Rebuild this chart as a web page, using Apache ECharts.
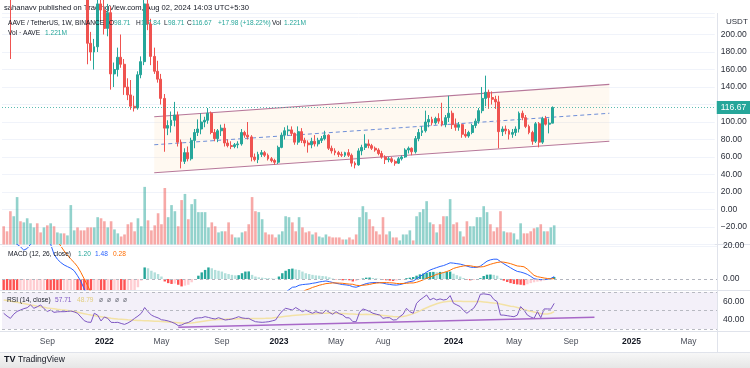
<!DOCTYPE html>
<html><head><meta charset="utf-8">
<script src="https://cdn.jsdelivr.net/npm/echarts@6/dist/echarts.min.js"></script>
<style>html,body{margin:0;padding:0;background:#fff}#c{width:750px;height:368px}</style>
</head><body><div id="c"></div>
<script>
// ---------- data ----------
const startDateUTC = [2021, 5, 7];   // first weekly bar: 2021-06-07
const weekCount = 213;                // weekly slots on the time axis (through mid 2025)
const tickLabels = [
  ['2021-09-06','Sep'],['2022-01-03','2022'],['2022-05-02','May'],['2022-09-05','Sep'],
  ['2023-01-02','2023'],['2023-05-01','May'],['2023-08-07','Aug'],['2024-01-01','2024'],
  ['2024-05-06','May'],['2024-09-02','Sep'],['2025-01-06','2025'],['2025-05-05','May']
];
const opens = [
345,300,275,240,300,320,262,290,340,380,
420,395,380,430,340,350,280,300,320,305,
330,345,350,300,250,240,190,180,186,235,
228,207,225,155,160,174,166,140,131,118,
116,154,169,235,212,175,158,149,127,93,
96,102,108,77,55,65,58,79,88,92,
100,102,110,88,81,90,93,76,73,72,
74,75,88,85,83,60,57,63,65,62,
58,56,54,71,85,90,91,87,77,89,
79,76,74,78,75,79,81,85,70,67,
65,63,62,65,62,53,51,67,71,75,
73,70,68,64,60,57,58,55,53,58,
60,68,70,66,81,88,90,100,103,99,
104,101,97,105,110,97,94,97,86,84,
88,96,101,113,127,134,128,126,123,89,
92,90,86,88,92,110,105,95,88,78,
98,77,104,97.5,98.71];
const highs = [
360,320,290,320,330,330,300,350,400,440,
450,420,450,470,370,360,310,330,340,335,
370,360,355,305,260,258,203,195,245,260,
240,235,232,168,185,200,172,150,148,130,
158,175,260,248,218,185,170,155,132,102,
112,123,112,80,70,72,82,92,103,110,
106,116,112,92,92,97,98,80,78,76,
78,92,90,100,85,64,66,68,67,64,
60,58,73,88,94,96,95,88,95,93,
82,79,82,85,82,84,90,86,73,70,
67,66,66,69,64,55,70,74,86,80,
75,72,70,67,62,60,60,57,60,62,
70,72,71,84,92,95,113,108,106,106,
110,122,108,130,113,104,100,98,92,90,
98,104,116,140,153,137,135,130,130,95,
96,92,92,95,112,113,108,97,90,100,
100,106,107,104,117.84];
const lows = [
290,255,172,232,270,240,250,280,320,360,
370,360,370,290,310,250,265,290,290,295,
300,310,290,240,230,166,170,160,180,215,
200,198,137,140,152,162,131,125,114,112,
114,150,165,205,165,155,145,120,66,85,
88,95,72,47,52,55,56,70,84,86,
94,98,86,78,77,84,72,71,69,70,
70,73,82,80,55,55,53,60,60,56,
54,51,52,70,80,85,84,74,74,76,
72,65,70,72,72,76,79,68,64,62,
60,60,60,60,49,47,50,62,68,70,
68,66,62,58,52,54,53,50,52,56,
59,64,62,64,78,84,88,94,96,97,
98,95,94,100,92,90,90,82,82,82,
86,93,98,110,118,115,120,115,70,84,
86,80,82,84,88,102,93,86,74,76,
71,75,96,87,98.71];
const closes = [
300,275,240,300,320,262,290,340,380,420,
395,380,430,340,350,280,300,320,305,330,
345,350,300,250,240,190,180,186,235,228,
207,225,155,160,174,166,140,131,118,116,
154,169,235,212,175,158,149,127,93,96,
102,108,77,55,65,58,79,88,92,100,
102,110,88,81,90,93,76,73,72,74,
75,88,85,83,60,57,63,65,62,58,
56,54,71,85,90,91,87,77,89,79,
76,74,78,75,79,81,85,70,67,65,
63,62,65,62,53,51,67,71,75,73,
70,68,64,60,57,58,55,53,58,60,
68,70,66,81,88,90,100,103,99,104,
101,97,105,110,97,94,97,86,84,88,
96,101,113,127,134,128,126,123,89,92,
90,86,88,92,110,105,95,88,78,98,
77,104,97.5,98.71,116.67];
const volumesM = [
1.16,0.84,2.12,1.80,3.02,1.48,1.41,1.67,1.35,1.09,
1.35,0.77,1.09,1.22,1.35,1.16,0.77,0.71,0.71,0.58,
2.51,0.90,1.09,0.90,0.90,1.09,1.09,1.09,1.74,1.67,
1.48,1.09,1.48,0.96,0.71,0.51,0.64,1.29,1.41,0.84,
1.67,1.16,3.67,1.54,0.90,1.22,1.99,1.29,3.60,1.74,
2.51,2.12,1.16,2.83,3.22,1.61,2.57,2.89,2.06,2.06,
2.06,1.09,1.41,1.16,0.77,0.84,0.84,1.41,0.64,0.45,
0.45,0.77,0.84,1.29,3.02,2.12,2.06,1.61,0.77,0.64,
0.64,0.45,0.64,0.84,1.80,1.74,1.41,0.84,1.74,1.09,
0.77,0.84,0.64,0.77,0.51,0.45,0.64,0.51,0.45,0.45,
0.45,0.32,0.32,0.45,0.32,0.64,1.74,2.44,2.06,1.61,
1.16,0.84,0.64,1.74,0.64,0.84,0.45,0.45,0.26,0.64,
0.64,0.90,0.26,1.80,2.06,2.25,2.76,1.41,1.29,0.77,
1.29,1.80,1.80,2.89,1.29,1.41,0.84,0.51,1.48,1.16,
1.16,1.74,1.74,2.44,2.06,1.29,0.84,1.09,2.12,0.84,
0.77,0.77,0.71,0.32,1.35,0.71,0.71,0.84,1.03,1.09,
1.29,0.84,0.84,1.09,1.221];
const macdLine = [
38,32,26,22.5,21,19.5,17.5,18.5,21,25,
28,29,30,30,21,15,12,10,8.5,7.5,
6.5,5,2,-1.5,-6,-11,-16,-19,-19,-19,
-21,-22,-27,-30,-31,-32,-34,-36,-38,-38,
-35,-30,-22,-19,-19,-20,-21,-23,-27,-30,
-31,-31,-33,-37,-38,-38,-36,-33,-30,-26,
-23,-20,-19,-19,-18,-17,-17,-17,-16.5,-16,
-15.5,-14,-13,-12,-13,-14,-14,-14,-14,-14,
-14,-14,-12.5,-10,-8,-6.5,-5.0,-4.8,-3.8,-3.4,
-3.2,-3.0,-2.6,-2.3,-1.8,-1.5,-1.2,-1.6,-2.1,-2.6,
-3.0,-3.4,-3.6,-3.9,-4.7,-5.0,-4.3,-3.5,-2.8,-2.4,
-2.2,-2.1,-2.2,-2.5,-3.0,-3.3,-3.6,-3.7,-3.4,-2.9,
-2.1,-1.6,-1.2,0,1.5,2.8,4.2,5.4,6.2,6.9,
7.6,8.1,8.9,9.8,9.6,9.3,9.0,8.5,7.8,7.2,
7.0,7.1,7.8,9.3,10.8,11.6,12.0,12.0,10.6,9.2,
8.0,6.8,5.6,4.6,4.2,3.6,2.8,1.6,0.2,-0.2,
-0.4,-0.3,-0.2,0.3,1.48];
const signalLine = [
45,43,40,37,34,32,30,28.5,27.5,27,
27.5,28,28,28.5,28,26,23,20,17,14.5,
12,10,7.5,4,0,-4,-8,-11,-13,-14.5,
-16,-17.5,-19.5,-21.5,-23.5,-25,-27,-29,-31,-32,
-32.5,-32,-29,-26,-24,-23,-22.5,-22.5,-23.5,-25,
-26.5,-28,-29.5,-31.5,-33.5,-34.5,-35,-34.5,-33,-31,
-29,-27,-25.5,-24.5,-23.5,-22.5,-21.5,-20.5,-19.5,-18.5,
-18,-17.5,-17,-16.5,-15.5,-15.5,-15,-14.8,-14.6,-14.5,
-14.3,-14.2,-14,-13.5,-13,-12.5,-11.3,-10.6,-9.3,-7.9,
-6.7,-6,-5.1,-4.5,-3.8,-3.3,-2.8,-2.6,-2.4,-2.4,
-2.5,-2.6,-2.9,-3.1,-3.2,-3.8,-4,-3.8,-3.6,-3.3,
-2.8,-2.5,-2.3,-2.2,-2.2,-2.3,-2.4,-2.7,-2.8,-2.7,
-2.6,-2.4,-2.4,-2,-1.3,-0.5,0.4,1.2,1.9,2.8,
3.3,3.9,4.5,5.3,6.4,7,7.5,7.9,8.1,8,
7.6,7.3,7.3,7.5,8.2,8.9,9.5,10,10.3,10.2,
9.8,9.3,8.6,7.9,7.7,7.4,6,4.1,2.2,1.4,
1.0,0.6,0.3,0.0,0.28];
const macdHist = [
-9,-11,-13,-14,-15,-14,-13,-12,-11,-10,
-9,-8,-7.5,-8,-9,-10,-11,-11.5,-11,-10,
-8,-7.5,-8,-9,-10,-12,-13,-12,-11,-11.5,
-12,-11.5,-13,-12,-11,-11.5,-12,-11,-10,-8,
-5,-1,7,6.5,5,4,3,1.5,-1.5,-2.5,
-3,-2.8,-3.5,-4.5,-4,-3.5,-2,-0.5,2,4,
5.5,7,6.5,5.5,5,4.5,3.5,3,2.5,2.2,
2.3,3.5,4.5,4.6,2.5,1.5,1,0.8,0.6,0.5,
0.3,0.2,1.5,3.5,5,6,6.3,5.8,5.5,4.5,
3.5,3,2.5,2.2,2,1.8,1.6,1,0.3,-0.2,
-0.5,-0.8,-0.7,-0.8,-1.5,-1.2,-0.3,0.3,0.8,0.9,
0.6,0.4,0.1,-0.3,-0.8,-1,-1.2,-1,-0.6,-0.2,
0.5,0.8,1.2,2,2.8,3.3,3.8,4.2,4.3,4.1,
4.3,4.2,4.4,4.5,3.2,2.3,1.5,0.6,-0.3,-0.8,
-0.6,-0.2,0.5,1.8,2.6,2.7,2.5,2,0.3,-1,
-1.8,-2.5,-3,-3.3,-3.5,-3.8,-3.2,-2.5,-2,-1.6,
-1.4,-0.9,-0.5,0.3,1.2];
const rsiLine = [
47,44,41.5,46,49,50.5,52,53,56,52.4,
54,56,52,49,50.5,48,48.5,48.7,48.7,49,
49.5,48.5,47,43,39,37.5,37.2,47,45,38.7,
43,41.5,37.2,37,37.2,36,35,36.5,38.7,41.5,
44,47,53.2,48.7,45,43.3,42,40,39.5,38.7,
37.5,36,33.6,34.3,36.1,37,39,41.5,42,42.2,
43.3,42.5,41.5,40.8,42.2,41,39.7,40.2,40.8,42,
43.3,42,41.5,41.5,39.5,37.9,37.5,37.2,37.5,37.9,
38.8,39.7,45,49.5,52.4,51.5,50.5,53.2,51,48.7,
50.5,48.5,47,48.7,47.5,47,50.5,48,45.9,48.7,
46.5,45.2,42.2,42,38,37.9,48,51.7,50.5,49,
47,46,45.1,41.5,42.2,42.2,39.7,40,43.3,46,
52.4,48.7,47,57.8,61.4,64,66.8,61.4,63.2,61.4,
62.5,61.4,62,66.1,57.8,56,54.2,50,47,50,
52.4,58,67.5,68,67.5,66.8,62,59.6,45.1,45,
44.4,43.8,43.3,45,54.2,50.5,45.1,43,41.5,48.7,
42.2,51.7,51.7,51.5,57.71];
const rsiMA = [
61.4,60.8,60.2,59.5,58.9,58.2,57.5,56.8,56,55.3,
54.6,54,53.4,52.8,52.3,51.8,51.3,50.9,50.6,50.1,
49.5,48.9,48.2,47.4,46.6,45.8,45.1,44.5,43.8,43.2,
42.6,42.1,41.6,41.2,40.8,40.5,40.2,39.9,39.7,39.5,
39.3,39.1,39,38.8,38.6,38.4,38.3,38.1,37.9,37.7,
37.4,37.1,36.8,36.5,36.2,36.3,36.6,37,37.6,38.2,
38.7,39.2,39.6,39.9,40.2,40.4,40.6,40.7,40.8,40.9,
41,41.1,41.2,41.2,41.3,41.3,41.3,41.4,41.5,41.7,
42,42.4,42.8,43.3,43.7,44.1,44.5,44.8,45.1,45.4,
45.7,46,46.3,46.6,46.8,47,47.1,47.2,47,46.9,
46.8,46.7,46.5,46.3,46.1,45.9,45.8,45.8,45.9,45.8,
45.6,45.4,45.1,44.7,44.3,43.9,43.5,43.3,43.3,43.6,
44.3,45.3,46.6,48,49.6,51.3,53,54.6,56,57.3,
58.4,59.1,59.6,60,60.1,60.1,60,59.8,59.7,59.6,
59.6,59.6,59.6,59.3,58.9,58.5,58.1,57.8,57,56.3,
55.5,54.7,54.2,53.2,52.1,51.1,50.1,49.2,48.4,47.6,
46.8,46.3,46.2,47,48.79];
// drawn channel (bar index, price)
const channelX = [45, 181];
const channelUpper = [106, 143];
const channelMiddle = [74, 110];
const channelLower = [42, 78];
// RSI support line (bar index, RSI)
const rsiTrendX = [52, 176];
const rsiTrendY = [31.8, 42.65];
const lastPrice = 116.67;

// ---------- build ----------
const categories = [];
const t0 = Date.UTC(startDateUTC[0], startDateUTC[1], startDateUTC[2]);
for (let i = 0; i < weekCount; i++) categories.push(new Date(t0 + i * 7 * 86400000).toISOString().slice(0, 10));
const tickMap = new Map(tickLabels);

const UP = '#26a69a', DOWN = '#ef5350';
const FONT = 'Liberation Sans, Arial, sans-serif';
const fmt = v => (v < 0 ? '\u2212' : '') + Math.abs(v).toFixed(2);

const candleData = opens.map((o, i) => [o, closes[i], lows[i], highs[i]]);
const volData = volumesM.map((v, i) => ({ value: v, itemStyle: { color: closes[i] >= opens[i] ? 'rgba(38,166,154,0.5)' : 'rgba(239,83,80,0.5)' } }));
const histData = macdHist.map((h, i) => {
  const p = i > 0 ? macdHist[i - 1] : h;
  let c;
  if (h >= 0) c = h >= p ? '#26a69a' : '#b2dfdb';
  else c = h <= p ? '#ff5252' : '#ffcdd2';
  return { value: h, itemStyle: { color: c } };
});

const L = 2, R = 33;
const grids = [
  { left: L, right: R, top: 13, height: 231.5 },
  { left: L, right: R, top: 166, height: 78.5 },
  { left: L, right: R, top: 244.5, height: 45.5 },
  { left: L, right: R, top: 290, height: 41 }
];
const xAxes = grids.map((g, k) => ({
  type: 'category', gridIndex: k, data: categories, boundaryGap: true,
  axisLine: { show: false }, axisTick: { show: false }, splitLine: { show: false },
  axisLabel: k === 3 ? {
    show: true, margin: 6, fontFamily: FONT,
    interval: (idx, val) => tickMap.has(val),
    formatter: val => { const t = tickMap.get(val) || ''; return /^\d{4}$/.test(t) ? '{y|' + t + '}' : '{m|' + t + '}'; },
    rich: { y: { fontWeight: 'bold', color: '#131722', fontSize: 8.5, fontFamily: FONT }, m: { color: '#4a4e59', fontSize: 8.5, fontFamily: FONT } }
  } : { show: false }
}));
const ylab = { color: '#2a2e39', fontSize: 8.5, margin: 6, fontFamily: FONT };
const yAxes = [
  { type: 'value', gridIndex: 0, position: 'right', min: -40, max: 224.6, interval: 20,
    axisLine: { show: false }, axisTick: { show: false },
    axisLabel: Object.assign({}, ylab, { formatter: v => (v <= -40 || v >= 220) ? '' : fmt(v) }),
    splitLine: { show: true, lineStyle: { color: '#f0f3fa', width: 1 } } },
  { type: 'value', gridIndex: 1, position: 'right', min: 0, max: 5, show: false, splitLine: { show: false } },
  { type: 'value', gridIndex: 2, position: 'right', min: -6.67, max: 20.9,
    axisLine: { show: false }, axisTick: { show: false },
    axisLabel: Object.assign({}, ylab, { customValues: [0, 20], formatter: v => fmt(v) }),
    splitLine: { show: false } },
  { type: 'value', gridIndex: 3, position: 'right', min: 27.84, max: 72.16,
    axisLine: { show: false }, axisTick: { show: false },
    axisLabel: Object.assign({}, ylab, { customValues: [40, 60], formatter: v => fmt(v) }),
    splitLine: { show: false } }
];

const series = [
  { type: 'custom', xAxisIndex: 0, yAxisIndex: 0, z: 1, silent: true, data: [0],
    renderItem: (params, api) => {
      const u0 = api.coord([channelX[0], channelUpper[0]]), u1 = api.coord([channelX[1], channelUpper[1]]);
      const m0 = api.coord([channelX[0], channelMiddle[0]]), m1 = api.coord([channelX[1], channelMiddle[1]]);
      const l0 = api.coord([channelX[0], channelLower[0]]), l1 = api.coord([channelX[1], channelLower[1]]);
      return { type: 'group', children: [
        { type: 'polygon', shape: { points: [u0, u1, l1, l0] }, style: { fill: 'rgba(255,176,80,0.08)' } },
        { type: 'line', shape: { x1: u0[0], y1: u0[1], x2: u1[0], y2: u1[1] }, style: { stroke: '#b7789a', lineWidth: 1.2 } },
        { type: 'line', shape: { x1: l0[0], y1: l0[1], x2: l1[0], y2: l1[1] }, style: { stroke: '#b7789a', lineWidth: 1.2 } },
        { type: 'line', shape: { x1: m0[0], y1: m0[1], x2: m1[0], y2: m1[1] }, style: { stroke: '#6f8fd8', lineWidth: 1, lineDash: [4, 3] } }
      ] };
    } },
  { type: 'bar', xAxisIndex: 1, yAxisIndex: 1, data: volData, barWidth: '78%', z: 2, silent: true },
  { type: 'candlestick', xAxisIndex: 0, yAxisIndex: 0, data: candleData, barWidth: '72%', z: 3, clip: true,
    itemStyle: { color: UP, color0: DOWN, borderColor: UP, borderColor0: DOWN, borderWidth: 1 },
    markLine: { silent: true, symbol: ['none', 'none'], animation: false,
      lineStyle: { color: 'rgba(38,166,154,0.75)', type: [1, 2], width: 1 },
      label: { show: true, position: 'end', formatter: lastPrice.toFixed(2), color: '#fff', backgroundColor: UP,
        padding: [2, 4, 2, 4], fontSize: 8.5, fontFamily: FONT, distance: 2 },
      data: [{ yAxis: lastPrice }] } },
  { type: 'bar', xAxisIndex: 2, yAxisIndex: 2, data: histData, barWidth: '72%', silent: true, clip: true,
    markLine: { silent: true, symbol: ['none', 'none'], label: { show: false }, animation: false,
      data: [{ yAxis: 0, lineStyle: { color: '#b2b5be', type: [3, 3], width: 1 } },
             { yAxis: 20, lineStyle: { color: '#f0f3fa', type: 'solid', width: 1 } }] } },
  { type: 'line', xAxisIndex: 2, yAxisIndex: 2, data: macdLine, showSymbol: false, clip: true,
    lineStyle: { color: '#2962ff', width: 1 }, silent: true },
  { type: 'line', xAxisIndex: 2, yAxisIndex: 2, data: signalLine, showSymbol: false, clip: true,
    lineStyle: { color: '#ff6d00', width: 1 }, silent: true },
  { type: 'line', xAxisIndex: 3, yAxisIndex: 3, data: rsiMA, showSymbol: false, clip: true,
    lineStyle: { color: '#f3e2a6', width: 1.5 }, silent: true,
    markArea: { silent: true, itemStyle: { color: 'rgba(126,87,194,0.09)' }, data: [[{ yAxis: 30 }, { yAxis: 70 }]] },
    markLine: { silent: true, symbol: ['none', 'none'], label: { show: false }, animation: false,
      lineStyle: { color: '#b8bac2', type: [3, 3], width: 1 },
      data: [{ yAxis: 70 }, { yAxis: 50 }, { yAxis: 30 }] } },
  { type: 'line', xAxisIndex: 3, yAxisIndex: 3, data: rsiLine, showSymbol: false, clip: true,
    lineStyle: { color: '#7e57c2', width: 1 }, silent: true },
  { type: 'line', xAxisIndex: 3, yAxisIndex: 3, showSymbol: false, silent: true,
    data: [[categories[rsiTrendX[0]], rsiTrendY[0]], [categories[rsiTrendX[1]], rsiTrendY[1]]],
    lineStyle: { color: '#a868c8', width: 1.5 } }
];

// legend text pieces: [text, x, colour]
const DARK = '#131722';
const legendMain = [['AAVE / TetherUS, 1W, BINANCE', 8, DARK], ['O', 109, DARK], ['98.71', 114, UP], ['H', 136, DARK], ['117.84', 141, UP],
  ['L', 164, DARK], ['98.71', 168, UP], ['C', 187, DARK], ['116.67', 192, UP], ['+17.98 (+18.22%)', 218, UP], ['Vol', 272, DARK], ['1.221M', 284, UP]];
const legendVol = [['Vol \u00b7 AAVE', 8, DARK], ['1.221M', 45, UP]];
const legendMacd = [['MACD (12, 26, close)', 8, DARK], ['1.20', 78, UP], ['1.48', 95, '#2962ff'], ['0.28', 113, '#ff6d00']];
const legendRsi = [['RSI (14, close)', 7, DARK], ['57.71', 55, '#7e57c2'], ['48.79', 77, '#e2cd7e'], ['\u00f8', 99, '#6a6d78'], ['\u00f8', 107, '#6a6d78'], ['\u00f8', 115, '#6a6d78'], ['\u00f8', 123, '#6a6d78']];
function legendTexts(items, cy, size) {
  return items.map(([t, x, c]) => ({ type: 'text', x: x, y: cy, z: 10, silent: true,
    style: { text: t, fill: c, fontSize: size, fontFamily: FONT, verticalAlign: 'middle', align: 'left' } }));
}

const sep = '#e0e3eb';
const graphic = [].concat(
  [{ type: 'text', x: 4, y: 8, style: { text: 'sahanavv published on TradingView.com, Aug 02, 2024 14:03 UTC+5:30', fill: DARK, fontSize: 7.6, fontFamily: FONT, verticalAlign: 'middle' } }],
  legendTexts(legendMain, 23.5, 6.6),
  legendTexts(legendVol, 33, 6.6),
  legendTexts(legendMacd, 254.5, 6.6),
  legendTexts(legendRsi, 300, 6.6),
  [
  { type: 'line', shape: { x1: 0, y1: 244.5, x2: 750, y2: 244.5 }, style: { stroke: sep, lineWidth: 1 } },
  { type: 'line', shape: { x1: 0, y1: 290.5, x2: 750, y2: 290.5 }, style: { stroke: sep, lineWidth: 1 } },
  { type: 'line', shape: { x1: 0, y1: 331.5, x2: 750, y2: 331.5 }, style: { stroke: sep, lineWidth: 1 } },
  { type: 'line', shape: { x1: 0, y1: 352.5, x2: 750, y2: 352.5 }, style: { stroke: sep, lineWidth: 1 } },
  { type: 'line', shape: { x1: 717.5, y1: 13, x2: 717.5, y2: 352 }, style: { stroke: sep, lineWidth: 1 } },
  { type: 'rect', shape: { x: 718, y: 15, width: 32, height: 13 }, style: { fill: '#fff' }, z: 20 },
  { type: 'text', x: 726, y: 22, z: 21, style: { text: 'USDT', fill: '#2a2e39', fontSize: 8, fontFamily: FONT, verticalAlign: 'middle' } },
  { type: 'rect', shape: { x: 0, y: 353, width: 750, height: 15 }, z: 0,
    style: { fill: new echarts.graphic.LinearGradient(0, 0, 0, 1, [{ offset: 0, color: '#f7f7f7' }, { offset: 1, color: '#e6e6e6' }]) } },
  { type: 'text', x: 4, y: 359.5, z: 5, style: { text: 'TV', fill: DARK, fontSize: 9, fontWeight: 'bold', fontFamily: FONT, verticalAlign: 'middle' } },
  { type: 'text', x: 18, y: 359.5, z: 5, style: { text: 'TradingView', fill: DARK, fontSize: 8.5, fontFamily: FONT, verticalAlign: 'middle' } }
  ]
);

const chart = echarts.init(document.getElementById('c'), null, { renderer: 'canvas' });
chart.setOption({
  animation: false,
  backgroundColor: '#ffffff',
  textStyle: { fontFamily: FONT },
  grid: grids, xAxis: xAxes, yAxis: yAxes, series: series, graphic: graphic
});
</script>
</body></html>
